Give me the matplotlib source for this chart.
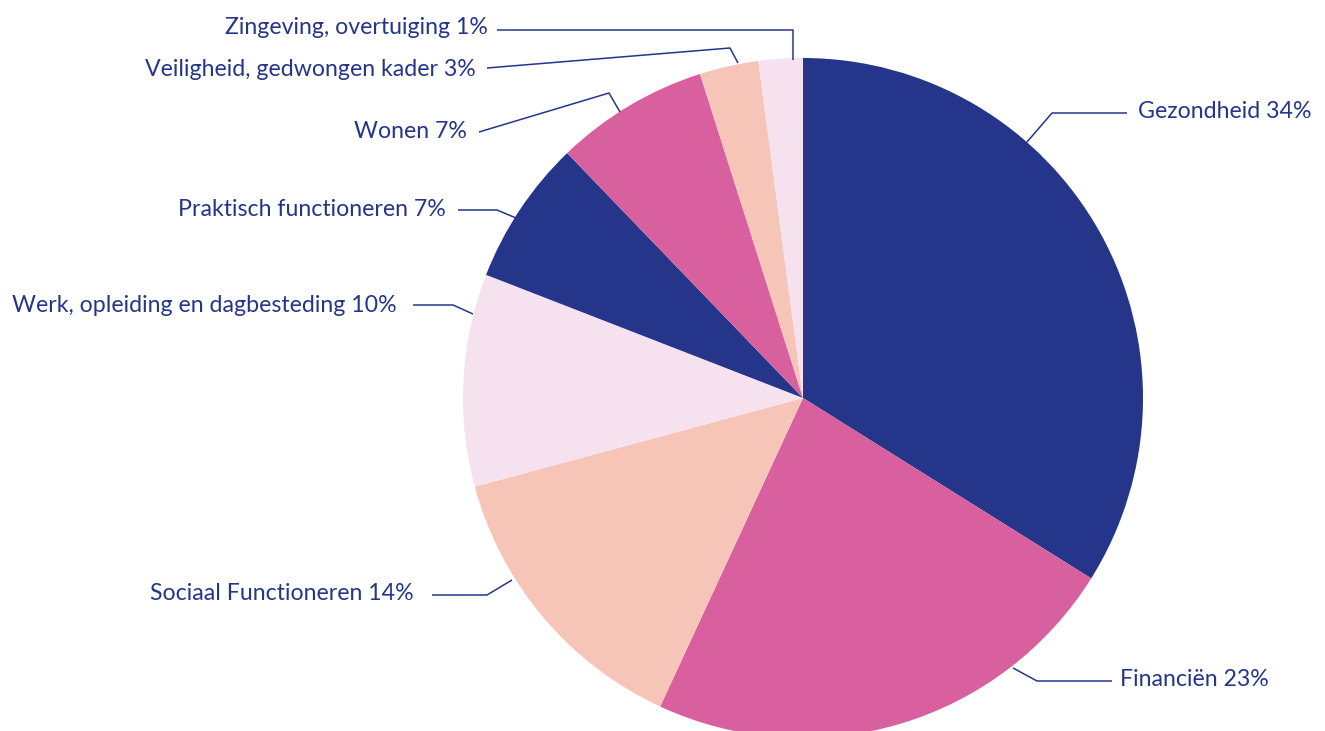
import matplotlib.pyplot as plt
from matplotlib.font_manager import FontProperties

# slice order: clockwise from 12 o'clock
names = ["Gezondheid", "Financiën", "Sociaal Functioneren",
         "Werk, opleiding en dagbesteding", "Praktisch functioneren",
         "Wonen", "Veiligheid, gedwongen kader", "Zingeving, overtuiging"]
shown_pct = [34, 23, 14, 10, 7, 7, 3, 1]
# slice sizes as measured from the wedge angles
slice_size = [33.9, 23.0, 13.9, 10.1, 6.9, 7.3, 2.8, 2.1]

NAVY = "#25358A"
PINK = "#D9609E"
PEACH = "#F7C5B8"
LIGHT = "#F6E2EF"
colors = [NAVY, PINK, PEACH, LIGHT, NAVY, PINK, PEACH, LIGHT]

W, H = 1325, 731
CX, CY, R = 803, 398, 340  # pixel coords, y measured from top

# leader layout per label: (anchor, elbow, line end, text anchor, ha) in pixels
layout = [
    ((1027, 142), (1052, 113), (1127, 113), (1138, 112), "left"),
    ((1013, 668), (1037, 681), (1112, 681), (1120, 679), "left"),
    ((512, 580), (487, 595), (432, 595), (414, 594), "right"),
    ((473, 314), (453, 305), (413, 305), (397, 305), "right"),
    ((516, 218), (497, 210), (458, 210), (446, 209), "right"),
    ((620, 112), (609, 93), (479, 132), (467, 132), "right"),
    ((738, 63), (730, 48), (487, 68), (476, 70), "right"),
    ((793, 60), (793, 30), (497, 30), (488, 27), "right"),
]

fig = plt.figure(figsize=(W / 100, H / 100), dpi=100)
ax = fig.add_axes([0, 0, 1, 1])

ax.pie(slice_size, colors=colors, startangle=90, counterclock=False,
       center=(CX, H - CY), radius=R, frame=True,
       wedgeprops=dict(linewidth=0))

font = FontProperties(family="Lato", size=16.7)
for name, pct, (a, e, l, t, ha) in zip(names, shown_pct, layout):
    xs = [a[0], e[0], l[0]]
    ys = [H - a[1], H - e[1], H - l[1]]
    ax.plot(xs, ys, color=NAVY, lw=1.1, solid_capstyle="butt")
    ax.text(t[0], H - t[1], f"{name} {pct}%", ha=ha, va="center",
            color=NAVY, fontproperties=font)

ax.set_xlim(0, W)
ax.set_ylim(0, H)
ax.set_aspect("equal")
ax.axis("off")

fig.savefig("out.png", dpi=100, facecolor="white")
